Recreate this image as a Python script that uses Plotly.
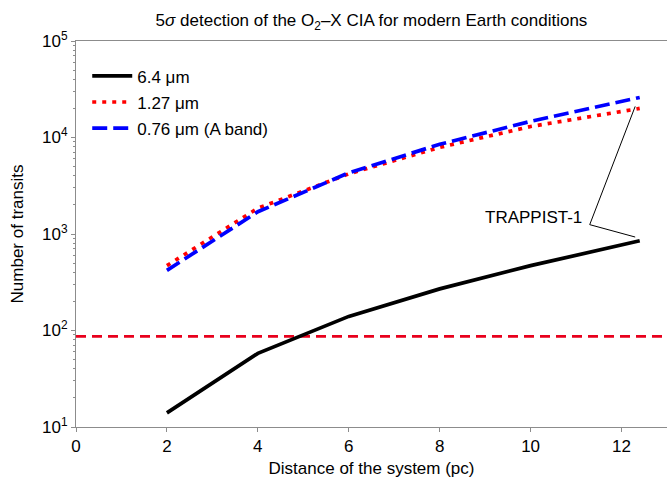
import plotly.graph_objects as go
import numpy as np

distance = [2, 4, 6, 8, 10, 12.4]
n_64 = [14, 58, 140, 270, 470, 850]
n_127 = [470, 1850, 4200, 7900, 13000, 20000]
n_076 = [420, 1700, 4300, 8500, 14700, 26000]
threshold = 87
series_names = ["6.4 μm", "1.27 μm", "0.76 μm (A band)"]
x_ticks = [0, 2, 4, 6, 8, 10, 12]
y_ticks = [10, 100, 1000, 10000, 100000]
y_ticktext = ["10<sup>1</sup>", "10<sup>2</sup>", "10<sup>3</sup>", "10<sup>4</sup>", "10<sup>5</sup>"]
x_range = [0, 13]
annot_label = "TRAPPIST-1"
annot_junction = (11.3, 1250)
annot_tip_upper = (12.3, 21000)
annot_tip_lower = (12.3, 930)

fig = go.Figure()
fig.add_trace(go.Scatter(x=x_range, y=[threshold, threshold], mode="lines",
                         line=dict(color="#e8001c", width=2.7, dash="10px,6px"),
                         showlegend=False, hoverinfo="skip"))
fig.add_trace(go.Scatter(x=distance, y=n_64, mode="lines", name=series_names[0],
                         legendgroup="a",
                         line=dict(color="black", width=3.7)))
fig.add_trace(go.Scatter(x=distance, y=n_127, mode="lines", name=series_names[1],
                         legendgroup="b",
                         line=dict(color="#ff0000", width=3.7, dash="4px,6px")))
fig.add_trace(go.Scatter(x=distance, y=n_076, mode="lines", name=series_names[2],
                         legendgroup="c",
                         line=dict(color="#0000ff", width=3.7, dash="15px,6px")))
# annotation leader lines
fig.add_trace(go.Scatter(x=[annot_tip_upper[0], annot_junction[0], annot_tip_lower[0]],
                         y=[annot_tip_upper[1], annot_junction[1], annot_tip_lower[1]],
                         mode="lines", line=dict(color="black", width=1),
                         showlegend=False, hoverinfo="skip"))
fig.add_annotation(x=annot_junction[0] - 0.13, y=np.log10(annot_junction[1]) + 0.07,
                   text=annot_label, showarrow=False, xanchor="right", yanchor="middle",
                   font=dict(size=17, color="black"))

axis_line = "#8c8c8c"
fig.update_layout(
    width=667, height=478,
    margin=dict(l=76, r=0, t=41, b=51),
    paper_bgcolor="white", plot_bgcolor="white",
    font=dict(family="Liberation Sans, Arial, sans-serif", size=17, color="black"),
    title=dict(text="5<i>σ</i> detection of the O<sub>2</sub>–X CIA for modern Earth conditions",
               x=0.5, xref="paper", y=0.958, yanchor="middle", font=dict(size=17)),
    legend=dict(x=0.019, y=0.955, xanchor="left", yanchor="top", bgcolor="rgba(0,0,0,0)",
                font=dict(size=17), tracegroupgap=1, itemwidth=40),
    xaxis=dict(range=x_range, tickvals=x_ticks, showgrid=False, zeroline=False,
               showline=True, linecolor=axis_line, linewidth=1, mirror=True,
               ticks="outside", ticklen=4, tickcolor=axis_line,
               title=dict(text="Distance of the system (pc)", standoff=6, font=dict(size=17))),
    yaxis=dict(type="log", range=[1, 5], tickvals=y_ticks, ticktext=y_ticktext,
               showgrid=False, zeroline=False,
               showline=True, linecolor=axis_line, linewidth=1, mirror=True,
               ticks="outside", ticklen=4, tickcolor=axis_line,
               minor=dict(ticks="outside", ticklen=2, tickcolor=axis_line, dtick="D1", showgrid=False),
               title=dict(text="Number of transits", standoff=14, font=dict(size=17))),
)
fig.write_html("out.html")
